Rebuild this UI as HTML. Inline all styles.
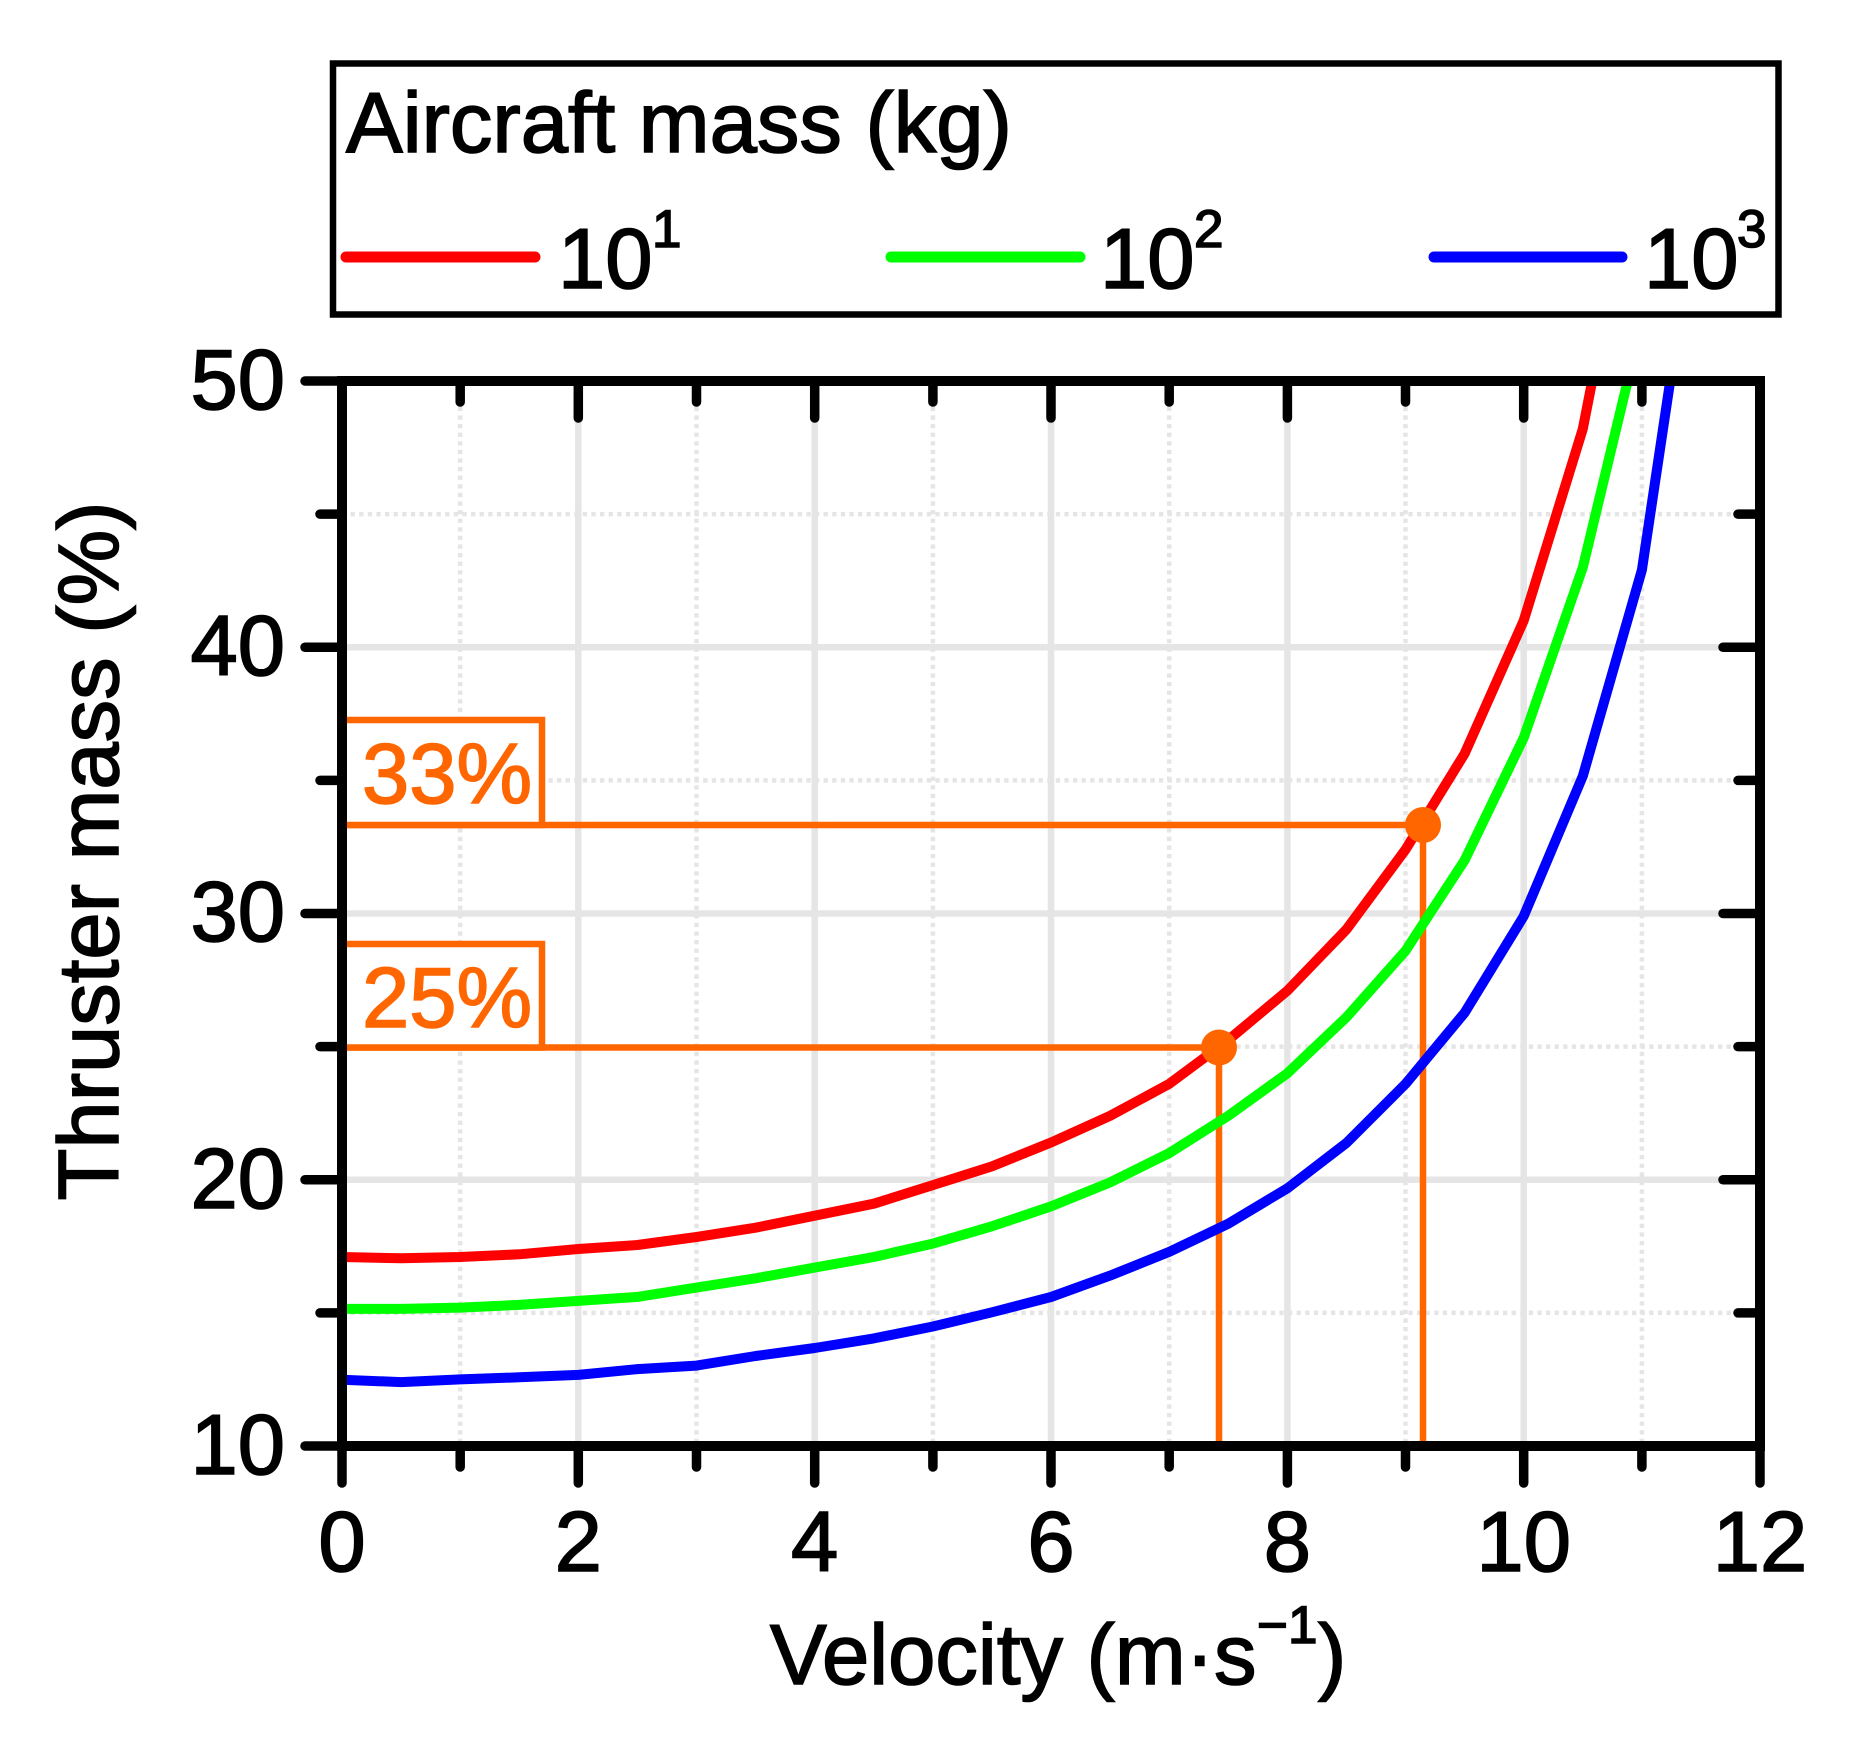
<!DOCTYPE html>
<html>
<head>
<meta charset="utf-8">
<style>
  html, body { margin: 0; padding: 0; background: #ffffff; }
  svg { display: block; }
  text { font-family: "Liberation Sans", Arial, sans-serif; fill: #000; stroke: #000; stroke-width: 1.6px; }
  text.o { fill: #ff6600; stroke: #ff6600; }
</style>
</head>
<body>
<svg width="1857" height="1741" viewBox="0 0 1857 1741" xmlns="http://www.w3.org/2000/svg">
  <rect x="0" y="0" width="1857" height="1741" fill="#ffffff"/>

  <g stroke="#e5e5e5" stroke-width="4.5" stroke-dasharray="4.3 4.3" fill="none">
    <line x1="460.2" y1="381" x2="460.2" y2="1446"/>
    <line x1="696.5" y1="381" x2="696.5" y2="1446"/>
    <line x1="932.9" y1="381" x2="932.9" y2="1446"/>
    <line x1="1169.2" y1="381" x2="1169.2" y2="1446"/>
    <line x1="1405.5" y1="381" x2="1405.5" y2="1446"/>
    <line x1="1641.9" y1="381" x2="1641.9" y2="1446"/>
    <line x1="342" y1="1312.9" x2="1760" y2="1312.9"/>
    <line x1="342" y1="1046.6" x2="1760" y2="1046.6"/>
    <line x1="342" y1="780.4" x2="1760" y2="780.4"/>
    <line x1="342" y1="514.1" x2="1760" y2="514.1"/>
  </g>
  <g stroke="#e5e5e5" stroke-width="6.5" fill="none">
    <line x1="578.3" y1="381" x2="578.3" y2="1446"/>
    <line x1="814.7" y1="381" x2="814.7" y2="1446"/>
    <line x1="1051" y1="381" x2="1051" y2="1446"/>
    <line x1="1287.4" y1="381" x2="1287.4" y2="1446"/>
    <line x1="1523.7" y1="381" x2="1523.7" y2="1446"/>
    <line x1="342" y1="1179.75" x2="1760" y2="1179.75"/>
    <line x1="342" y1="913.5" x2="1760" y2="913.5"/>
    <line x1="342" y1="647.25" x2="1760" y2="647.25"/>
  </g>

  <g stroke="#ff6600" stroke-width="6.5" fill="none">
    <line x1="342" y1="825" x2="1423" y2="825"/>
    <line x1="1423" y1="825" x2="1423" y2="1446"/>
    <line x1="342" y1="1047.5" x2="1219" y2="1047.5"/>
    <line x1="1219" y1="1047.5" x2="1219" y2="1446"/>
    <rect x="342" y="720" width="200" height="105" fill="#ffffff"/>
    <rect x="342" y="944" width="200" height="103.5" fill="#ffffff"/>
  </g>
  <text class="o" x="362" y="803" font-size="85">33%</text>
  <text class="o" x="362" y="1027" font-size="85">25%</text>

  <g fill="none" stroke-width="10" stroke-linejoin="round">
    <polyline stroke="#ff0000" points="342,1257 401.1,1258.3 460.2,1257 519.3,1254.3 578.3,1249 637.4,1245 696.5,1237 755.6,1227.7 814.7,1215.7 873.8,1203.7 932.9,1185.1 991.9,1166.4 1051,1142.5 1110.1,1115.8 1169.2,1083.9 1228.3,1040 1287.4,990.7 1346.4,929.5 1405.5,849.6 1464.6,753.7 1523.7,620.6 1582.8,428.9 1592.2,381"/>
    <polyline stroke="#00ff00" points="342,1308.9 401.1,1308.9 460.2,1307.6 519.3,1304.9 578.3,1300.9 637.4,1296.9 696.5,1287.6 755.6,1278.3 814.7,1267.6 873.8,1257 932.9,1243.6 991.9,1226.3 1051,1206.4 1110.1,1182.4 1169.2,1153.1 1228.3,1115.8 1287.4,1073.3 1346.4,1017.3 1405.5,950.8 1464.6,860.3 1523.7,737.8 1582.8,567.4 1627.7,381"/>
    <polyline stroke="#0000ff" points="342,1379.7 401.1,1382.1 460.2,1379.4 519.3,1377.3 578.3,1374.9 637.4,1369.1 696.5,1365.6 755.6,1356 814.7,1348 873.8,1338.4 932.9,1326.5 991.9,1312.3 1051,1297 1110.1,1275.6 1169.2,1251.9 1228.3,1223.7 1287.4,1188.3 1346.4,1143 1405.5,1083.9 1464.6,1012.8 1523.7,916.2 1582.8,776.1 1641.9,570 1670.2,381"/>
  </g>

  <circle cx="1423" cy="825" r="18" fill="#ff6600"/>
  <circle cx="1219" cy="1047.5" r="18" fill="#ff6600"/>

  <rect x="342" y="381" width="1418" height="1065" fill="none" stroke="#000" stroke-width="10"/>

  <g stroke="#000" stroke-width="9.5" stroke-linecap="round" fill="none">
    <line x1="342" y1="1446" x2="305" y2="1446"/>
    <line x1="342" y1="1179.75" x2="305" y2="1179.75"/>
    <line x1="342" y1="913.5" x2="305" y2="913.5"/>
    <line x1="342" y1="647.25" x2="305" y2="647.25"/>
    <line x1="342" y1="381" x2="305" y2="381"/>
    <line x1="342" y1="1312.9" x2="320" y2="1312.9"/>
    <line x1="342" y1="1046.6" x2="320" y2="1046.6"/>
    <line x1="342" y1="780.4" x2="320" y2="780.4"/>
    <line x1="342" y1="514.1" x2="320" y2="514.1"/>
    <line x1="1760" y1="1179.75" x2="1723" y2="1179.75"/>
    <line x1="1760" y1="913.5" x2="1723" y2="913.5"/>
    <line x1="1760" y1="647.25" x2="1723" y2="647.25"/>
    <line x1="1760" y1="1312.9" x2="1738" y2="1312.9"/>
    <line x1="1760" y1="1046.6" x2="1738" y2="1046.6"/>
    <line x1="1760" y1="780.4" x2="1738" y2="780.4"/>
    <line x1="1760" y1="514.1" x2="1738" y2="514.1"/>
    <line x1="342" y1="1446" x2="342" y2="1483"/>
    <line x1="578.3" y1="1446" x2="578.3" y2="1483"/>
    <line x1="814.7" y1="1446" x2="814.7" y2="1483"/>
    <line x1="1051" y1="1446" x2="1051" y2="1483"/>
    <line x1="1287.4" y1="1446" x2="1287.4" y2="1483"/>
    <line x1="1523.7" y1="1446" x2="1523.7" y2="1483"/>
    <line x1="1760" y1="1446" x2="1760" y2="1483"/>
    <line x1="460.2" y1="1446" x2="460.2" y2="1467"/>
    <line x1="696.5" y1="1446" x2="696.5" y2="1467"/>
    <line x1="932.9" y1="1446" x2="932.9" y2="1467"/>
    <line x1="1169.2" y1="1446" x2="1169.2" y2="1467"/>
    <line x1="1405.5" y1="1446" x2="1405.5" y2="1467"/>
    <line x1="1641.9" y1="1446" x2="1641.9" y2="1467"/>
    <line x1="578.3" y1="381" x2="578.3" y2="418"/>
    <line x1="814.7" y1="381" x2="814.7" y2="418"/>
    <line x1="1051" y1="381" x2="1051" y2="418"/>
    <line x1="1287.4" y1="381" x2="1287.4" y2="418"/>
    <line x1="1523.7" y1="381" x2="1523.7" y2="418"/>
    <line x1="460.2" y1="381" x2="460.2" y2="402"/>
    <line x1="696.5" y1="381" x2="696.5" y2="402"/>
    <line x1="932.9" y1="381" x2="932.9" y2="402"/>
    <line x1="1169.2" y1="381" x2="1169.2" y2="402"/>
    <line x1="1405.5" y1="381" x2="1405.5" y2="402"/>
    <line x1="1641.9" y1="381" x2="1641.9" y2="402"/>
  </g>

  <g font-size="85" text-anchor="end">
    <text x="285" y="1474">10</text>
    <text x="285" y="1208">20</text>
    <text x="285" y="941">30</text>
    <text x="285" y="675">40</text>
    <text x="285" y="409">50</text>
  </g>
  <g font-size="85" text-anchor="middle">
    <text x="342" y="1571">0</text>
    <text x="578.3" y="1571">2</text>
    <text x="814.7" y="1571">4</text>
    <text x="1051" y="1571">6</text>
    <text x="1287.4" y="1571">8</text>
    <text x="1523.7" y="1571">10</text>
    <text x="1760" y="1571">12</text>
  </g>

  <text x="770" y="1684" font-size="85">Velocity (m·s</text>
  <text x="1257" y="1643" font-size="53">−1</text>
  <text x="1318" y="1684" font-size="85">)</text>
  <text transform="translate(118,851) rotate(-90)" text-anchor="middle" font-size="85">Thruster mass (%)</text>

  <rect x="333" y="63.5" width="1445.5" height="251" fill="none" stroke="#000" stroke-width="6.5"/>
  <text x="346" y="152" font-size="85">Aircraft mass (kg)</text>
  <g stroke-width="11" stroke-linecap="round">
    <line x1="346" y1="257" x2="535" y2="257" stroke="#ff0000"/>
    <line x1="891" y1="257" x2="1080" y2="257" stroke="#00ff00"/>
    <line x1="1434" y1="257" x2="1622" y2="257" stroke="#0000ff"/>
  </g>
  <text x="558" y="288" font-size="85">10</text>
  <text x="652" y="247" font-size="53">1</text>
  <text x="1100" y="288" font-size="85">10</text>
  <text x="1194" y="247" font-size="53">2</text>
  <text x="1644" y="288" font-size="85">10</text>
  <text x="1737" y="247" font-size="53">3</text>
</svg>
</body>
</html>
